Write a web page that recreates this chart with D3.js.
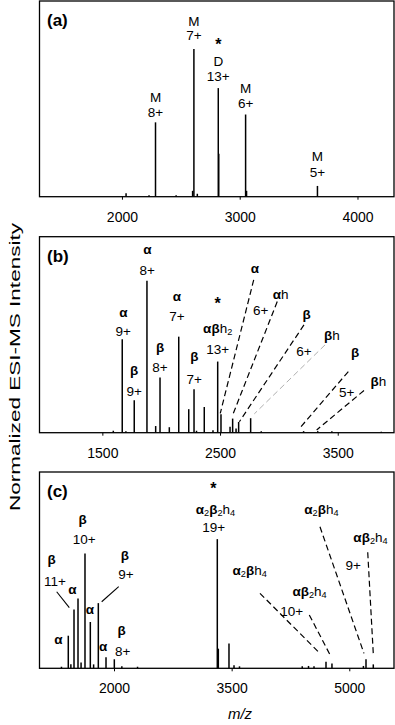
<!DOCTYPE html>
<html><head><meta charset="utf-8">
<script src="https://cdn.jsdelivr.net/npm/d3@7"></script>
<style>
body{margin:0;background:#fff}
text{font-family:"Liberation Sans",Arial,Helvetica,sans-serif;fill:#000}
</style>
</head><body>
<svg id="chart" width="395" height="725"></svg>
<script>
// ---------- DATA ----------
// Panel (a)
const domainA = [1300, 4310];
const ticksA = [2000, 3000, 4000];
const peakMzA  = [2035, 2230, 2285, 2460, 2600, 2611, 2640, 2818, 2822, 3050, 3058, 3660];
const peakIntA = [1.7, 0.8, 38, 0.8, 3, 75.5, 1.5, 55.5, 22, 42, 3, 5.5];
const labelTextA = ["M","8+","M","7+","*","D","13+","M","6+","M","5+"];
const labelMzA   = [2285,2285,2611,2611,2818,2818,2818,3050,3050,3660,3660];
const labelIntA  = [51.1,43.4,89.9,82.6,79.7,69.3,61.7,55.4,47.7,20.8,12.3];

// Panel (b)
const domainB = [966, 3978];
const ticksB = [1500, 2500, 3500];
const peakMzB  = [1593,1669,1700,1771,1879,1953,1990,2069,2149,2234,2279,2300,2366,2440,2480,2508,2585,2607,2636,2658,2760,2850,3210,3330,3450,3870];
const peakIntB = [1,47.7,0.8,16.6,77.5,3.4,28.1,2.8,49,12,22.2,1,13.1,1.2,36.3,9.4,3,7.2,2.2,5.5,7.4,0.8,0.8,0.8,0.8,0.5];
const labelTextB = ["α","9+","β","9+","α","8+","β","8+","α","7+","β","7+","*","αβh2","13+","α","αh","6+","β","βh","6+","β","βh","5+"];
const labelMzB   = [1678,1678,1771,1771,1882,1882,1990,1990,2134,2134,2281,2281,2480,2480,2480,2797,3015,2845,3236,3451,3213,3647,3845,3576];
const labelIntB  = [61.0,51.6,31.2,21.0,93.0,83.1,43.1,33.7,69.2,59.3,38.5,27.4,67.8,53.3,42.8,83.5,70.9,62.3,59.8,49.9,41.4,40.6,26.1,20.6];
// leader lines: [mz1, int1, mz2, int2]
const leadersB = [[2786,78,2502,9.9],[2986,66.9,2613,9.9],[3213,55,2664,5.6],[3392,44.8,2791,9.6],[3590,31.2,3188,3.1],[3723,21.5,3321,1.4]];

// Panel (c)
const domainC = [1050, 5570];
const ticksC = [2000, 3500, 5000];
const peakMzC  = [1330,1417,1450,1490,1541,1580,1630,1698,1740,1800,1898,2004,2100,2300,3317,3330,3466,3530,3600,4400,4480,4550,4703,4779,5180,5213,5306];
const peakIntC = [0.8,16.6,2,29.9,35.5,3,58.5,23.6,2,33.2,5.6,4.6,1,0.8,65.8,10,12.6,1.5,1,1,1.2,1,3.4,2.5,1.2,4.6,2];
const labelTextC = ["α","β","11+","α","β","10+","α","β","9+","α","β","8+","*","α2β2h4","19+","α2βh4","αβ2h4","9+","α2βh4","αβ2h4","10+"];
const labelMzC   = [1290,1206,1248,1468,1601,1621,1694,2140,2153,1863,2098,2111,3266,3294,3270,4645,5270,5051,3730,4493,4266];
const labelIntC  = [14.4,54.7,44.5,39.5,75.2,65.7,29.3,57.2,47.9,10.7,19.0,8.8,93.4,81.0,72.1,81.0,66.7,52.5,50.1,39.4,29.3];
const solidLeadersC = [[1269,39.0,1430,30.9],[2060,41.6,1843,33.9]];
const dashedLeadersC = [[4626,72.1,5187,7.6],[5235,59.1,5306,7.3],[3861,38.2,4618,7.9],[4490,27.2,4767,5.9]];

// ---------- DRAW ----------
const svg = d3.select("#chart");
const L = 39.5, R = 394;
const panels = [
  {name:"(a)", top:1, bottom:196.7, domain:domainA, ticks:ticksA, mz:peakMzA, it:peakIntA,
   lt:labelTextA, lm:labelMzA, li:labelIntA, dashed:[], solid:[]},
  {name:"(b)", top:236.7, bottom:432.7, domain:domainB, ticks:ticksB, mz:peakMzB, it:peakIntB,
   lt:labelTextB, lm:labelMzB, li:labelIntB, dashed:leadersB, solid:[], light:3},
  {name:"(c)", top:472, bottom:668.3, domain:domainC, ticks:ticksC, mz:peakMzC, it:peakIntC,
   lt:labelTextC, lm:labelMzC, li:labelIntC, dashed:dashedLeadersC, solid:solidLeadersC}
];

function addRichText(sel, str, fs){
  // Greek bold, digits after letters become subscripts
  const chars = Array.from(str);
  const hasLetter = /[A-Za-zαβ]/.test(str);
  chars.forEach(ch => {
    const ts = sel.append("tspan").text(ch);
    if (ch === "α" || ch === "β") { ts.attr("font-weight","bold"); }
    else if (/[0-9]/.test(ch) && hasLetter && !str.includes("+")) {
      ts.attr("font-size", fs*0.68).attr("baseline-shift","-22%");
    }
  });
}

panels.forEach(p => {
  const x = d3.scaleLinear().domain(p.domain).range([L, R]);
  const y = d3.scaleLinear().domain([0, 100]).range([p.bottom, p.top]);
  const g = svg.append("g");

  // peaks
  g.selectAll("line.pk").data(p.mz).join("line")
    .attr("x1", d => x(d)).attr("x2", d => x(d))
    .attr("y1", y(0)).attr("y2", (d,i) => y(p.it[i]))
    .attr("stroke", "#000").attr("stroke-width", 1.5);

  // leaders
  g.selectAll("line.dl").data(p.dashed).join("line")
    .attr("x1", d => x(d[0])).attr("y1", d => y(d[1]))
    .attr("x2", d => x(d[2])).attr("y2", d => y(d[3]))
    .attr("stroke", (d,i) => i === p.light ? "#9a9a9a" : "#000")
    .attr("stroke-width", (d,i) => i === p.light ? 0.8 : 1.2)
    .attr("stroke-dasharray", "6,3.5");
  g.selectAll("line.sl").data(p.solid).join("line")
    .attr("x1", d => x(d[0])).attr("y1", d => y(d[1]))
    .attr("x2", d => x(d[2])).attr("y2", d => y(d[3]))
    .attr("stroke", "#000").attr("stroke-width", 1.1);

  // labels
  p.lt.forEach((t, i) => {
    const fs = 13.5;
    const starFs = 16;
    let off;
    if (t === "*") off = 0.55 * starFs;
    else if (/^[αβ]+$/.test(t)) off = 0.26 * fs;
    else off = 0.36 * fs;
    const txt = g.append("text")
      .attr("x", x(p.lm[i])).attr("y", y(p.li[i]) + off)
      .attr("text-anchor", "middle").attr("font-size", t === "*" ? starFs : fs);
    if (t === "*") txt.attr("font-weight","bold").text("*");
    else addRichText(txt, t, fs);
  });

  // frame
  g.append("rect").attr("x", L).attr("y", p.top).attr("width", R - L).attr("height", p.bottom - p.top)
    .attr("fill", "none").attr("stroke", "#000").attr("stroke-width", 1.3);

  // axis
  const ax = g.append("g").attr("transform", `translate(0,${p.bottom})`)
    .call(d3.axisBottom(x).tickValues(p.ticks).tickSize(3).tickSizeOuter(0).tickPadding(12).tickFormat(d3.format("d")));
  ax.select(".domain").remove();
  ax.selectAll("text").attr("font-size", 14).attr("font-family", '"Liberation Sans",Arial,sans-serif').attr("fill","#000");
  ax.selectAll("line").attr("stroke","#000");

  // panel label
  g.append("text").attr("x", 47).attr("y", p.top + 25).attr("font-size", 17).attr("font-weight", "bold").text(p.name);
});

// axis titles
svg.append("text").attr("transform", "translate(20,367) rotate(-90)")
  .attr("text-anchor", "middle").attr("font-size", 15.5)
  .attr("textLength", 288).attr("lengthAdjust", "spacingAndGlyphs")
  .text("Normalized ESI-MS Intensity");
svg.append("text").attr("x", 240).attr("y", 719).attr("text-anchor", "middle")
  .attr("font-size", 15).attr("font-style", "italic").text("m/z");
</script>
</body></html>
